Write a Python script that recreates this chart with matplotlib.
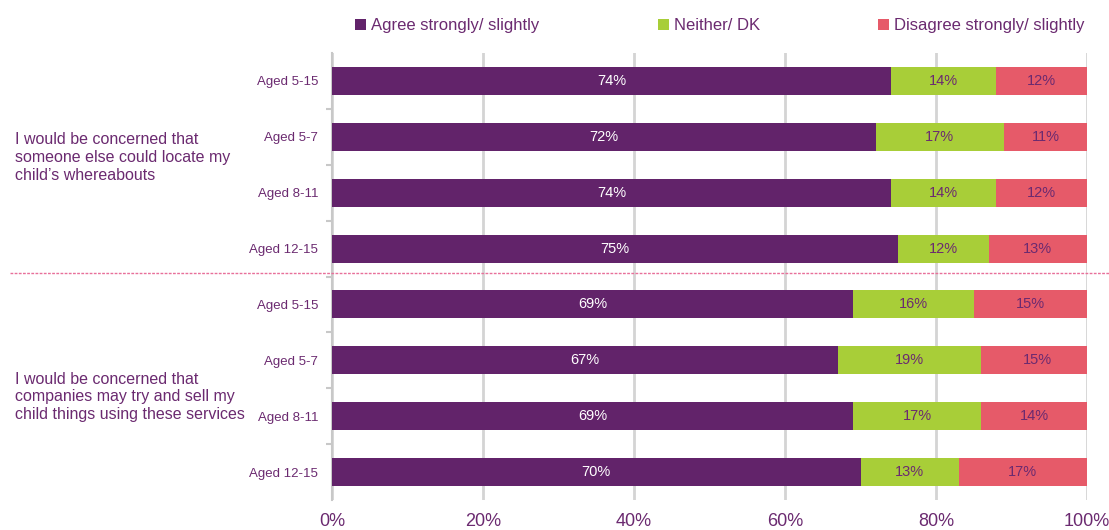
import matplotlib.pyplot as plt
from matplotlib.lines import Line2D
import numpy as np

plt.rcParams['font.family'] = ['Liberation Sans', 'DejaVu Sans']

ages = ["Aged 5-15", "Aged 5-7", "Aged 8-11", "Aged 12-15",
        "Aged 5-15", "Aged 5-7", "Aged 8-11", "Aged 12-15"]
groups = ["I would be concerned that\nsomeone else could locate my\nchild\u2019s whereabouts",
          "I would be concerned that\ncompanies may try and sell my\nchild things using these services"]
agree = [74, 72, 74, 75, 69, 67, 69, 70]
neither = [14, 17, 14, 12, 16, 19, 17, 13]
disagree = [12, 11, 12, 13, 15, 15, 14, 17]
series_names = ["Agree strongly/ slightly", "Neither/ DK", "Disagree strongly/ slightly"]

purple = "#62236A"
green = "#A8CE38"
red = "#E65A69"
textc = "#6B2A70"

fig = plt.figure(figsize=(11.09, 5.3), dpi=100)
ax = fig.add_axes([332/1109, 30/530, (1087-332)/1109, (500-53)/530])

y = np.arange(len(ages))
left = np.zeros(len(ages))
cols = [purple, green, red]
for vals, c, name in zip([agree, neither, disagree], cols, series_names):
    ax.barh(y, vals, left=left, height=0.5, color=c, label=name, zorder=3)
    for yi, l, v in zip(y, left, vals):
        ax.text(l + v/2, yi, f"{v}%", ha='center', va='center', fontsize=10.5,
                color='white' if c == purple else textc, zorder=4)
    left = left + np.array(vals)

ax.set_xlim(0, 100)
ax.set_ylim(7.5, -0.5)
ax.set_yticks(y)
ax.set_yticklabels(ages, fontsize=9.5, color=textc)
ax.set_yticks(np.arange(0.5, 7.0, 1), minor=True)
ax.tick_params(axis='y', which='major', length=0, pad=10)
ax.tick_params(axis='y', which='minor', length=4, color='#C8C8C8', width=1.5)
ax.set_xticks([0, 20, 40, 60, 80, 100])
ax.set_xticklabels(["0%", "20%", "40%", "60%", "80%", "100%"], fontsize=13, color=textc)
ax.tick_params(axis='x', length=0, pad=9)
ax.grid(axis='x', color='#D4D4D4', linewidth=2, zorder=0)
for s in ['top', 'right', 'bottom']:
    ax.spines[s].set_visible(False)
ax.spines['left'].set_color('#C8C8C8')
ax.spines['left'].set_linewidth(1.5)

fig.text(15/1109, 1 - 158/530, groups[0], fontsize=11.5, color=textc, va='center', ha='left', linespacing=1.25)
fig.text(15/1109, 1 - 397/530, groups[1], fontsize=11.5, color=textc, va='center', ha='left', linespacing=1.25)

fig.add_artist(Line2D([10/1109, 1], [1 - 273/530, 1 - 273/530], color='#E8709A',
                      linestyle=(0, (2, 1)), linewidth=1, transform=fig.transFigure))

fig.legend(loc='center', bbox_to_anchor=(720/1109, 1 - 26/530), ncol=3, frameon=False,
           fontsize=12, handlelength=0.65, handleheight=0.65, handletextpad=0.3,
           columnspacing=7.1, labelcolor=textc)

fig.savefig("out.png", dpi=100)
